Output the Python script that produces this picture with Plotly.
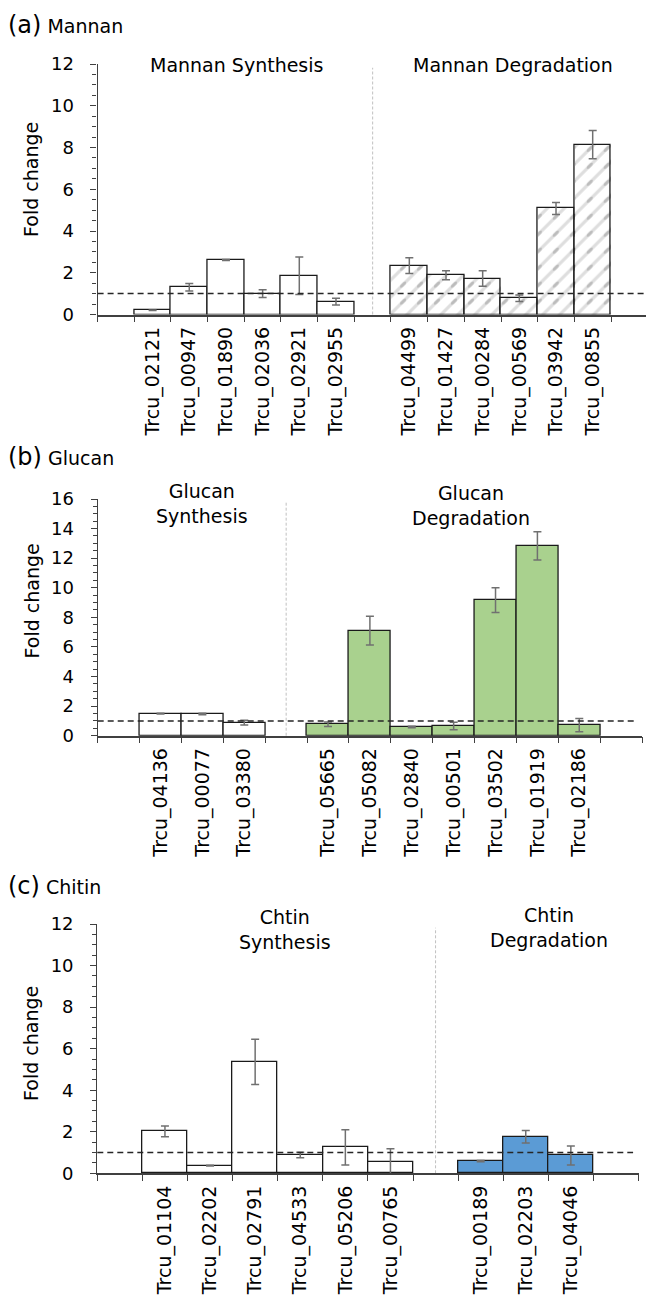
import plotly.graph_objects as go

W, H = 646, 1303
FONT = "DejaVu Sans, Liberation Sans, Arial, sans-serif"

# ---------------- data ----------------
mannan_syn_genes = ["Trcu_02121", "Trcu_00947", "Trcu_01890", "Trcu_02036", "Trcu_02921", "Trcu_02955"]
mannan_syn_vals = [0.20, 1.31, 2.61, 1.00, 1.86, 0.62]
mannan_syn_err = [0.01, 0.18, 0.02, 0.19, 0.90, 0.16]
mannan_deg_genes = ["Trcu_04499", "Trcu_01427", "Trcu_00284", "Trcu_00569", "Trcu_03942", "Trcu_00855"]
mannan_deg_vals = [2.34, 1.88, 1.72, 0.78, 5.08, 8.14]
mannan_deg_err = [0.38, 0.22, 0.37, 0.16, 0.29, 0.68]

glucan_syn_genes = ["Trcu_04136", "Trcu_00077", "Trcu_03380"]
glucan_syn_vals = [1.49, 1.47, 0.88]
glucan_syn_err = [0.02, 0.05, 0.16]
glucan_deg_genes = ["Trcu_05665", "Trcu_05082", "Trcu_02840", "Trcu_00501", "Trcu_03502", "Trcu_01919", "Trcu_02186"]
glucan_deg_vals = [0.77, 7.10, 0.59, 0.66, 9.16, 12.83, 0.72]
glucan_deg_err = [0.15, 0.97, 0.05, 0.25, 0.84, 0.96, 0.45]

chitin_syn_genes = ["Trcu_01104", "Trcu_02202", "Trcu_02791", "Trcu_04533", "Trcu_05206", "Trcu_00765"]
chitin_syn_vals = [2.02, 0.37, 5.36, 0.88, 1.25, 0.56]
chitin_syn_err = [0.26, 0.02, 1.09, 0.13, 0.85, 0.62]
chitin_deg_genes = ["Trcu_00189", "Trcu_02203", "Trcu_04046"]
chitin_deg_vals = [0.59, 1.76, 0.86]
chitin_deg_err = [0.03, 0.30, 0.46]

y_max = [12, 16, 12]
reference_level = 1

# ---------------- helpers ----------------
def px_x(x):
    return x / W

def px_y(y):
    return 1 - y / H

BAR_LINE = dict(color="#1a1a1a", width=1.3)
ERR = dict(type="data", color="#707070", thickness=1.5, width=4, visible=True)
HATCH = 12                      # "/" tile is HATCH*sqrt(2) px
CUT = HATCH * 2 ** 0.5          # white cross tile aligned with the hatch tile

fig = go.Figure()

panels = [
    dict(ax="", syn=(mannan_syn_genes, mannan_syn_vals, mannan_syn_err),
         deg=(mannan_deg_genes, mannan_deg_vals, mannan_deg_err), style="pattern",
         xdom=(97.6, 646), ydom=(64, 314.5), cut=1.7),
    dict(ax="2", syn=(glucan_syn_genes, glucan_syn_vals, glucan_syn_err),
         deg=(glucan_deg_genes, glucan_deg_vals, glucan_deg_err), style="#a9d18e",
         xdom=(97.7, 642.1), ydom=(499, 735.7), cut=0),
    dict(ax="3", syn=(chitin_syn_genes, chitin_syn_vals, chitin_syn_err),
         deg=(chitin_deg_genes, chitin_deg_vals, chitin_deg_err), style="#5b9bd5",
         xdom=(97.3, 638.5), ydom=(924, 1173.3), cut=0),
]

shapes = []
annotations = []

for i, p in enumerate(panels):
    xa, ya = "x" + p["ax"], "y" + p["ax"]
    sg, sv, se = p["syn"]
    dg, dv, de = p["deg"]
    cats = [" "] + sg + ["  "] + dg + ["   "]

    # synthesis bars (white)
    fig.add_trace(go.Bar(x=sg, y=sv, xaxis=xa, yaxis=ya, uid="syn%d" % i,
                         marker=dict(color="white", line=BAR_LINE),
                         error_y=dict(array=se, **ERR), hoverinfo="x+y"))
    # degradation bars
    if p["style"] == "pattern":
        # grey diagonal hatch ...
        fig.add_trace(go.Bar(x=dg, y=dv, xaxis=xa, yaxis=ya, uid="hatch%d" % i,
                             marker=dict(color="white", line=dict(width=0),
                                         pattern=dict(shape="/", fgcolor="#7a7a7a",
                                                      size=HATCH, solidity=0.27)),
                             hoverinfo="skip"))
        # ... chopped into short dashes by a white cross grid drawn on top
        fig.add_trace(go.Bar(x=dg, y=dv, xaxis=xa, yaxis=ya, uid="cut%d" % i,
                             marker=dict(color="white", line=BAR_LINE,
                                         pattern=dict(shape="+", fillmode="overlay",
                                                      fgcolor="white",
                                                      bgcolor="rgba(255,255,255,0)",
                                                      size=CUT, solidity=0.88)),
                             error_y=dict(array=de, **ERR), hoverinfo="x+y"))
    else:
        fig.add_trace(go.Bar(x=dg, y=dv, xaxis=xa, yaxis=ya, uid="deg%d" % i,
                             marker=dict(color=p["style"], line=BAR_LINE),
                             error_y=dict(array=de, **ERR), hoverinfo="x+y"))

    ncat = len(cats)
    dom_w = p["xdom"][1] - p["xdom"][0]
    cat_w = (dom_w + p["cut"]) / ncat
    xr = [-0.5, -0.5 + dom_w / cat_w]

    xkey = "xaxis" + p["ax"]
    ykey = "yaxis" + p["ax"]
    fig.update_layout(**{
        xkey: dict(domain=[px_x(p["xdom"][0]), px_x(p["xdom"][1])], anchor=ya,
                   type="category", categoryorder="array", categoryarray=cats,
                   range=xr, tickson="boundaries", ticks="outside", ticklen=6,
                   tickwidth=1.3, tickcolor="#404040", showline=True,
                   linecolor="#404040", linewidth=1.5, tickangle=-90,
                   tickfont=dict(size=19, color="black", family=FONT),
                   showgrid=False, zeroline=False, ticklabelstandoff=3,
                   automargin=False, fixedrange=True),
        ykey: dict(domain=[px_y(p["ydom"][1]), px_y(p["ydom"][0])], anchor=xa,
                   range=[0, y_max[i]], dtick=2, ticks="outside", ticklen=6,
                   tickwidth=1.3, tickcolor="#404040", showline=True,
                   linecolor="#404040", linewidth=1.3,
                   tickfont=dict(size=18, color="black", family=FONT),
                   showgrid=False, zeroline=False, ticklabelstandoff=13,
                   minor=dict(dtick=0.5, ticks="outside", ticklen=4,
                              tickwidth=1.1, tickcolor="#404040", showgrid=False),
                   automargin=False, fixedrange=True),
    })

    # reference dashed line at fold change 1
    shapes.append(dict(type="line", xref=xa + " domain", yref=ya, x0=0,
                       x1=0.99 if p["cut"] == 0 else 1,
                       y0=reference_level, y1=reference_level, layer="above",
                       line=dict(color="#262626", width=1.5, dash="6px,4px")))
    # group divider
    div_idx = len(sg) + 1
    shapes.append(dict(type="line", xref=xa, yref=ya + " domain", x0=div_idx, x1=div_idx,
                       y0=0, y1=0.985, layer="below",
                       line=dict(color="#c0c0c0", width=1, dash="3px,2px")))

# ---------------- text ----------------
titles = [("(a)", "Mannan", 25), ("(b)", "Glucan", 457), ("(c)", "Chitin", 886)]
for lab, name, yc in titles:
    annotations.append(dict(xref="paper", yref="paper", x=px_x(6), y=px_y(yc),
                            xanchor="left", yanchor="middle", showarrow=False,
                            text="<span style='font-size:24px'>%s</span> %s" % (lab, name),
                            font=dict(size=19, color="black", family=FONT)))

headers = [("Mannan Synthesis", 236.5, 64.5), ("Mannan Degradation", 513, 64.5),
           ("Glucan<br>Synthesis", 202, 504), ("Glucan<br>Degradation", 471, 505),
           ("Chtin<br>Synthesis", 285, 929.5), ("Chtin<br>Degradation", 549, 928)]
for txt, xc, yc in headers:
    annotations.append(dict(xref="paper", yref="paper", x=px_x(xc), y=px_y(yc),
                            xanchor="center", yanchor="middle", showarrow=False,
                            text=txt, align="center",
                            font=dict(size=19, color="black", family=FONT)))

for yc in [180, 601.5, 1044]:
    annotations.append(dict(xref="paper", yref="paper", x=px_x(31), y=px_y(yc),
                            xanchor="center", yanchor="middle", showarrow=False,
                            text="Fold change", textangle=-90,
                            font=dict(size=19, color="black", family=FONT)))

fig.update_layout(width=W, height=H, margin=dict(l=0, r=0, t=0, b=0, autoexpand=False),
                  paper_bgcolor="white", plot_bgcolor="white",
                  barmode="overlay", bargap=0, showlegend=False,
                  font=dict(family=FONT, color="black"),
                  shapes=shapes, annotations=annotations)

fig.write_html("out.html", config={"displayModeBar": False},
               post_script="document.body.style.margin='0px';")
